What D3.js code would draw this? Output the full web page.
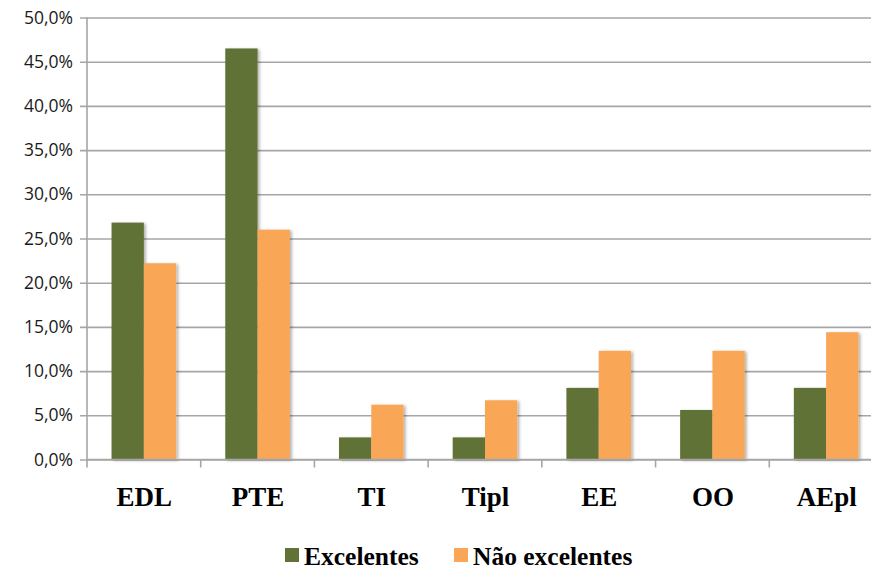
<!DOCTYPE html>
<html>
<head>
<meta charset="utf-8">
<script src="https://cdn.jsdelivr.net/npm/d3@7"></script>
<style>
  html, body { margin: 0; padding: 0; background: #fff; }
  svg { display: block; }
</style>
</head>
<body>
<svg id="chart" width="871" height="571"></svg>
<script>
// Share of each category, in percent
const categories = ["EDL", "PTE", "TI", "Tipl", "EE", "OO", "AEpl"];
const seriesNames = ["Excelentes", "Não excelentes"];
const excelentes = [26.8, 46.5, 2.5, 2.5, 8.1, 5.6, 8.1];
const naoExcelentes = [22.2, 26.0, 6.2, 6.7, 12.3, 12.3, 14.4];
const yTicks = [0, 5, 10, 15, 20, 25, 30, 35, 40, 45, 50];
const colors = ["#617236", "#f9a757"];

(function () {
  const svg = d3.select("#chart");
  const plotLeft = 87, plotRight = 883, plotTop = 17.5, plotBottom = 459.5;

  const x0 = d3.scaleBand().domain(categories).range([plotLeft, plotRight]).padding(0);
  const x1 = d3.scaleBand().domain(seriesNames).range([0, x0.bandwidth()])
    .paddingInner(0).paddingOuter(0.76);
  const y = d3.scaleLinear().domain([0, 50]).range([plotBottom, plotTop]);

  const fmt = v => v.toFixed(1).replace(".", ",") + "%";

  // Shadow under the bars
  const defs = svg.append("defs");
  const f = defs.append("filter").attr("id", "shadow")
    .attr("x", "-20%").attr("y", "-20%").attr("width", "150%").attr("height", "140%");
  f.append("feDropShadow").attr("dx", 2).attr("dy", 1).attr("stdDeviation", 1.6)
    .attr("flood-color", "#000").attr("flood-opacity", 0.3);

  // Horizontal gridlines and y axis labels
  const yAxis = d3.axisLeft(y).tickValues(yTicks).tickFormat(fmt)
    .tickSize(-(plotRight - plotLeft)).tickSizeOuter(0).tickPadding(14);
  const gy = svg.append("g").attr("transform", `translate(${plotLeft},0)`).call(yAxis);
  gy.select(".domain").remove();
  gy.selectAll(".tick line").attr("stroke", "#a6a6a6").attr("stroke-width", 1.6)
    .attr("x1", -7);
  gy.selectAll(".tick text").attr("font-family", "'Open Sans', sans-serif")
    .attr("font-size", 17.5).attr("fill", "#1a1a1a");

  // Vertical axis line
  svg.append("line").attr("x1", plotLeft).attr("x2", plotLeft)
    .attr("y1", plotTop).attr("y2", plotBottom)
    .attr("stroke", "#a6a6a6").attr("stroke-width", 1.6);

  // Bars
  const data = categories.map((c, i) => ({ cat: c, vals: [excelentes[i], naoExcelentes[i]] }));
  const groups = svg.append("g").selectAll("g").data(data).join("g")
    .attr("transform", d => `translate(${x0(d.cat)},0)`);
  groups.selectAll("rect")
    .data(d => d.vals.map((v, j) => ({ name: seriesNames[j], v, j })))
    .join("rect")
    .attr("x", d => x1(d.name))
    .attr("width", x1.bandwidth())
    .attr("y", d => y(d.v))
    .attr("height", d => y(0) - y(d.v))
    .attr("fill", d => colors[d.j])
    .attr("filter", "url(#shadow)");

  // Category axis with boundary ticks
  const boundaries = categories.map(c => x0(c)).concat([plotRight]);
  svg.append("line").attr("x1", plotLeft).attr("x2", plotRight)
    .attr("y1", plotBottom).attr("y2", plotBottom)
    .attr("stroke", "#a6a6a6").attr("stroke-width", 1.6);
  svg.append("g").selectAll("line").data(boundaries).join("line")
    .attr("x1", d => d).attr("x2", d => d).attr("y1", plotBottom).attr("y2", plotBottom + 8)
    .attr("stroke", "#a6a6a6").attr("stroke-width", 1.6);
  svg.append("g").selectAll("text").data(categories).join("text")
    .attr("x", d => x0(d) + x0.bandwidth() / 2 + 0.5)
    .attr("y", 506)
    .attr("text-anchor", "middle")
    .attr("font-family", "'Liberation Serif', 'Times New Roman', serif")
    .attr("font-weight", "bold").attr("font-size", 27).attr("fill", "#000")
    .text(d => d);

  // Legend
  const legendItems = [
    { name: seriesNames[0], color: colors[0], x: 285 },
    { name: seriesNames[1], color: colors[1], x: 454 }
  ];
  const lg = svg.append("g").selectAll("g").data(legendItems).join("g")
    .attr("transform", d => `translate(${d.x},0)`);
  lg.append("rect").attr("x", 0).attr("y", 548).attr("width", 14).attr("height", 14)
    .attr("fill", d => d.color);
  lg.append("text").attr("x", 19).attr("y", 565)
    .attr("font-family", "'Liberation Serif', 'Times New Roman', serif")
    .attr("font-weight", "bold").attr("font-size", 25.5).attr("fill", "#000")
    .text(d => d.name);
})();
</script>
</body>
</html>
